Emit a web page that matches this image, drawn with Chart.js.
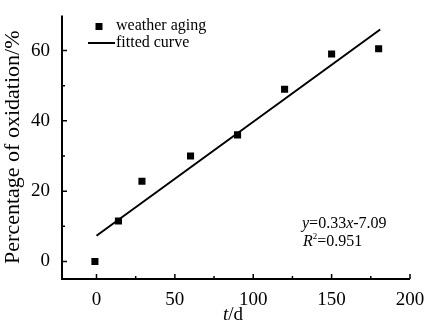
<!DOCTYPE html>
<html>
<head>
<meta charset="utf-8">
<script src="https://cdn.jsdelivr.net/npm/chart.js@4/dist/chart.umd.min.js"></script>
<style>
html,body{margin:0;padding:0;background:#fff;}
#wrap{width:430px;height:322px;}
</style>
</head>
<body>
<div id="wrap"><canvas id="c" width="430" height="322"></canvas></div>
<script>
const tDays = [-1, 14, 29, 60, 90, 120, 150, 180];
const oxidation = [0, 11.5, 22.8, 30, 36, 49, 59, 60.5];
const fitX = [0, 181];
const fitY = [7.3, 66];
const xTicks = [0, 50, 100, 150, 200];
const yTicks = [0, 20, 40, 60];
const seriesLabels = ['weather aging', 'fitted curve'];
const xTitle = 't/d';
const yTitle = 'Percentage of oxidation/%';
const eqLine1 = ['y', '=0.33', 'x', '-7.09'];
const eqLine2 = ['R', '2', '=0.951'];

const FONT = '"Liberation Serif", "Times New Roman", serif';

const decor = {
  id: 'decor',
  afterDraw(chart) {
    const ctx = chart.ctx;
    const a = chart.chartArea;
    const xs = chart.scales.x, ys = chart.scales.y;
    ctx.save();
    ctx.strokeStyle = '#000';
    ctx.fillStyle = '#000';
    // axes
    ctx.lineWidth = 2;
    ctx.beginPath();
    ctx.moveTo(a.left, a.top);
    ctx.lineTo(a.left, a.bottom);
    ctx.lineTo(a.right, a.bottom);
    ctx.stroke();
    // ticks (inward)
    ctx.lineWidth = 1.5;
    ctx.beginPath();
    for (let i = 0; i < xTicks.length; i++) {
      const px = xs.getPixelForValue(xTicks[i]);
      ctx.moveTo(px, a.bottom); ctx.lineTo(px, a.bottom - 5);
      if (i < xTicks.length - 1) {
        const mx = xs.getPixelForValue((xTicks[i] + xTicks[i + 1]) / 2);
        ctx.moveTo(mx, a.bottom); ctx.lineTo(mx, a.bottom - 3);
      }
    }
    for (let i = 0; i < yTicks.length; i++) {
      const py = ys.getPixelForValue(yTicks[i]);
      ctx.moveTo(a.left, py); ctx.lineTo(a.left + 5, py);
      const mv = yTicks[i] + 10;
      if (mv < ys.max) {
        const my = ys.getPixelForValue(mv);
        ctx.moveTo(a.left, my); ctx.lineTo(a.left + 3, my);
      }
    }
    ctx.stroke();

    // legend
    ctx.textBaseline = 'middle';
    ctx.textAlign = 'left';
    ctx.font = '16px ' + FONT;
    ctx.fillRect(95.5, 23, 7, 7);
    ctx.fillText(seriesLabels[0], 116, 26);
    ctx.lineWidth = 2;
    ctx.beginPath();
    ctx.moveTo(88, 43); ctx.lineTo(115, 43);
    ctx.stroke();
    ctx.fillText(seriesLabels[1], 116, 43);

    // equation annotation
    const drawParts = (parts, styles, x, y) => {
      for (let i = 0; i < parts.length; i++) {
        const st = styles[i];
        ctx.font = st.font;
        ctx.fillText(parts[i], x, y + (st.dy || 0));
        x += ctx.measureText(parts[i]).width;
      }
    };
    const ital = 'italic 16px ' + FONT, norm = '16px ' + FONT, sup = '9px ' + FONT;
    drawParts(eqLine1, [{font: ital}, {font: norm}, {font: ital}, {font: norm}], 302, 224);
    drawParts(eqLine2, [{font: ital}, {font: sup, dy: -5}, {font: norm}], 303, 242);

    // x title with italic t
    ctx.textBaseline = 'middle';
    ctx.font = 'italic 19px ' + FONT;
    const tW = ctx.measureText('t').width;
    ctx.font = '19px ' + FONT;
    const rW = ctx.measureText('/d').width;
    const cx = 233;
    const sx = cx - (tW + rW) / 2;
    ctx.font = 'italic 19px ' + FONT;
    ctx.fillText(xTitle.slice(0, 1), sx, 315);
    ctx.font = '19px ' + FONT;
    ctx.fillText(xTitle.slice(1), sx + tW, 315);
    ctx.restore();
  }
};

new Chart(document.getElementById('c'), {
  type: 'scatter',
  data: {
    datasets: [
      {
        label: seriesLabels[0],
        data: tDays.map((t, i) => ({x: t, y: oxidation[i]})),
        pointStyle: 'rect',
        pointRadius: 5,
        backgroundColor: '#000',
        borderColor: '#000',
        borderWidth: 0,
        showLine: false
      },
      {
        label: seriesLabels[1],
        data: fitX.map((t, i) => ({x: t, y: fitY[i]})),
        showLine: true,
        pointRadius: 0,
        borderColor: '#000',
        borderWidth: 2,
        fill: false
      }
    ]
  },
  options: {
    responsive: false,
    animation: false,
    devicePixelRatio: 1,
    layout: {padding: {left: 0, top: 13, right: 20, bottom: 0}},
    plugins: {legend: {display: false}, tooltip: {enabled: false}},
    scales: {
      x: {
        type: 'linear',
        min: -22, max: 200,
        grid: {display: false},
        border: {display: false},
        afterBuildTicks: s => { s.ticks = xTicks.map(v => ({value: v})); },
        afterFit: s => { s.height = 43; },
        ticks: {color: '#000', font: {family: FONT, size: 19}, padding: 2, maxRotation: 0}
      },
      y: {
        type: 'linear',
        min: -5, max: 70,
        grid: {display: false},
        border: {display: false},
        afterBuildTicks: s => { s.ticks = yTicks.map(v => ({value: v})); },
        afterFit: s => { s.width = 62; },
        ticks: {color: '#000', font: {family: FONT, size: 19}, padding: 4},
        title: {display: true, text: yTitle, color: '#000', font: {family: FONT, size: 22}, padding: {top: 0, bottom: 2}}
      }
    }
  },
  plugins: [decor]
});
</script>
</body>
</html>
